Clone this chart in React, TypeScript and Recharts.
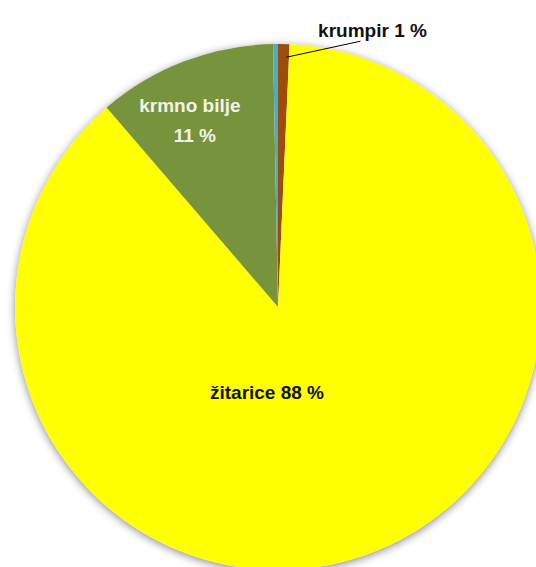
import React from "react";
import { PieChart, Pie, Cell } from "recharts";

const names = ["krumpir", "žitarice", "krmno bilje", "ostalo"];
const values = [0.7, 88.0, 11.0, 0.3];
const labels = ["krumpir 1 %", "žitarice 88 %", "krmno bilje|11 %", ""];
const colors = ["#9E4B0E", "#FFFF00", "#77933C", "#4BACC6"];

const data = names.map((name, i) => ({ name, value: values[i], label: labels[i], color: colors[i] }));

const FONT = "'Liberation Sans', Arial, sans-serif";
const RAD = Math.PI / 180;

function renderLabel(props: any) {
  const { cx, cy, midAngle, outerRadius, payload, index } = props;
  const label: string = payload?.label ?? data[index]?.label;
  if (!label) return null;
  if (index === 0) {
    const sx = cx + outerRadius * 0.95 * Math.cos(-midAngle * RAD) + 3;
    const sy = cy + outerRadius * 0.95 * Math.sin(-midAngle * RAD);
    const ex = sx + 74;
    const ey = sy - 16;
    return (
      <g>
        <line x1={sx} y1={sy} x2={ex} y2={ey} stroke="#000" strokeWidth={1} />
        <text x={ex + 12} y={ey - 11} fill="#111" fontFamily={FONT} fontWeight="bold" fontSize={19} textAnchor="middle" dominantBaseline="central">
          {label}
        </text>
      </g>
    );
  }
  if (index === 1) {
    return (
      <text x={cx - 11} y={cy + 85} fill="#111" fontFamily={FONT} fontWeight="bold" fontSize={19} textAnchor="middle" dominantBaseline="central">
        {label}
      </text>
    );
  }
  const r = outerRadius * 0.78;
  const x = cx + r * Math.cos(-midAngle * RAD) - 15;
  const y = cy + r * Math.sin(-midAngle * RAD) + 4;
  const [l1, l2] = label.split("|");
  return (
    <text x={x} y={y} fill="#F2F2E6" fontFamily={FONT} fontWeight="bold" fontSize={19} textAnchor="middle">
      <tspan x={x} dy={-7}>{l1}</tspan>
      <tspan x={x + 5} dy={30}>{l2}</tspan>
    </text>
  );
}

export default function App() {
  return (
    <div style={{ position: "absolute", left: 0, top: 0, width: 536, height: 567, background: "#fff", overflow: "hidden" }}>
      <div
        style={{
          position: "absolute",
          left: 15,
          top: 44,
          width: 526,
          height: 526,
          borderRadius: "50%",
          boxShadow: "0 2px 9px rgba(0,0,0,0.45)",
        }}
      />
      <div style={{ position: "absolute", left: 0, top: 0 }}>
        <PieChart width={536} height={567} margin={{ top: 0, right: 0, bottom: 0, left: 0 }}>
          <Pie
            data={data}
            dataKey="value"
            nameKey="name"
            cx={278}
            cy={307}
            outerRadius={263}
            startAngle={90}
            endAngle={-270}
            stroke="none"
            labelLine={false}
            label={renderLabel}
            isAnimationActive={false}
          >
            {data.map((d) => (
              <Cell key={d.name} fill={d.color} />
            ))}
          </Pie>
        </PieChart>
      </div>
    </div>
  );
}
